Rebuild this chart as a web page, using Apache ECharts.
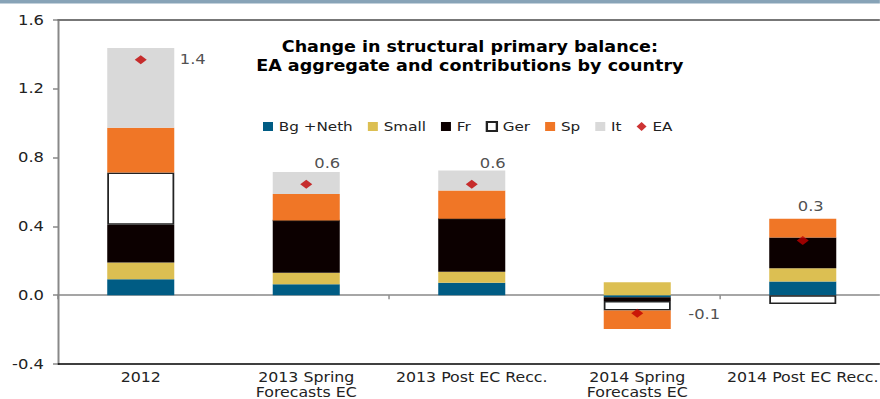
<!DOCTYPE html>
<html>
<head>
<meta charset="utf-8">
<script src="https://cdn.jsdelivr.net/npm/echarts@6/dist/echarts.min.js"></script>
<style>
  html, body { margin: 0; padding: 0; background: #fff; overflow: hidden; }
  #wrap { width: 880px; height: 399px; overflow: hidden; }
  #chart { height: 399px; transform-origin: 0 0; }
</style>
</head>
<body>
<div id="wrap"><div id="chart"></div></div>
<script>
// Change in structural primary balance, by forecast vintage
const categories = [
  '2012',
  '2013 Spring\nForecasts EC',
  '2013 Post EC Recc.',
  '2014 Spring\nForecasts EC',
  '2014 Post EC Recc.'
];
const bgNeth = [0.093, 0.064, 0.073, -0.012, 0.079];
const small  = [0.097, 0.066, 0.064, 0.076, 0.078];
const fr     = [0.219, 0.304, 0.307, -0.021, 0.178];
const ger    = [0.304, 0, 0, -0.056, -0.051];
const sp     = [0.260, 0.155, 0.164, -0.107, 0.109];
const it     = [0.464, 0.127, 0.117, 0, 0];
const ea     = [1.369, 0.645, 0.645, -0.105, 0.318];
const yTicks = { min: -0.4, max: 1.6, interval: 0.4 };

const FONT = 'DejaVu Sans';
const TXT = '#222';

// The chart is laid out narrower and widened with CSS, giving the broad lettering.
const SX = 1.17;
const W = 880;
const sx = v => v / SX;           // page pixels -> chart pixels (horizontal)
const el = document.getElementById('chart');
el.style.width = sx(W) + 'px';
el.style.transform = 'scaleX(' + SX + ')';

// where each EA value label sits relative to its diamond (page pixels)
const eaLabelOffsets = [[52, 0], [21, -21], [21, -21], [67, 1], [8, -34]];

function barSeries(name, values, style) {
  return {
    name, type: 'bar', stack: 'total', data: values,
    barWidth: '40.5%', itemStyle: style
  };
}

const chart = echarts.init(el, null, { renderer: 'svg' });
chart.setOption({
  animation: false,
  textStyle: { fontFamily: FONT },
  title: {
    text: 'Change in structural primary balance:\nEA aggregate and contributions by country',
    left: sx(464), top: 32, textAlign: 'center',
    textStyle: { fontFamily: FONT, fontSize: 15, fontWeight: 'bold', color: '#000', lineHeight: 19 }
  },
  graphic: [{
    type: 'rect', left: 0, top: 0, shape: { width: sx(W), height: 3.5 },
    style: { fill: '#87a3b7' }
  }],
  legend: {
    left: sx(263), top: 120, padding: 0,
    itemWidth: sx(10), itemHeight: 9, itemGap: sx(15),
    textStyle: { fontFamily: FONT, fontSize: 13, color: TXT },
    data: [
      { name: 'Bg +Neth', icon: 'rect' },
      { name: 'Small', icon: 'rect' },
      { name: 'Fr', icon: 'rect' },
      { name: 'Ger', icon: 'rect' },
      { name: 'Sp', icon: 'rect' },
      { name: 'It', icon: 'rect' },
      { name: 'EA', icon: 'diamond' }
    ]
  },
  // the category axis runs a little past the right edge of the page
  grid: {
    left: sx(58), width: sx(827.5), top: 20, bottom: 35,
    containLabel: false, outerBoundsMode: 'none'
  },
  xAxis: [
    {
      type: 'category', data: categories, position: 'bottom',
      axisLine: { onZero: false, lineStyle: { color: '#000', width: 1.5 } },
      axisTick: { show: false },
      axisLabel: { fontFamily: FONT, fontSize: 13.5, color: TXT, margin: 6, lineHeight: 14.5, interval: 0 }
    },
    {
      // category line through zero with boundary ticks
      type: 'category', data: categories, position: 'bottom',
      axisLine: { onZero: true, lineStyle: { color: '#888', width: 1.5 } },
      axisTick: { show: true, length: 4, lineStyle: { color: '#888', width: 1.2 } },
      axisLabel: { show: false }
    },
    {
      type: 'category', data: categories, position: 'top',
      axisLine: { onZero: false, lineStyle: { color: '#777', width: 2 } },
      axisTick: { show: false }, axisLabel: { show: false }
    }
  ],
  yAxis: {
    type: 'value', min: yTicks.min, max: yTicks.max, interval: yTicks.interval,
    axisLine: { show: true, lineStyle: { color: '#888', width: 1.7 } },
    axisTick: { show: true, length: sx(5), lineStyle: { color: '#888', width: 1.5 } },
    splitLine: { show: false },
    axisLabel: { fontFamily: FONT, fontSize: 14, color: TXT, margin: sx(14),
                 formatter: v => v.toFixed(1) }
  },
  series: [
    barSeries('Bg +Neth', bgNeth, { color: '#005c84' }),
    barSeries('Small', small, { color: '#dcbf52' }),
    barSeries('Fr', fr, { color: '#0c0000' }),
    barSeries('Ger', ger, { color: '#ffffff', borderColor: '#222', borderWidth: 1.5 }),
    barSeries('Sp', sp, { color: '#f07626' }),
    barSeries('It', it, { color: '#d9d9d9' }),
    {
      name: 'EA', type: 'scatter', symbol: 'diamond', symbolSize: [sx(12), 9],
      itemStyle: { color: '#c00000' }, z: 5,
      data: ea.map((v, i) => ({
        value: v,
        label: { offset: [sx(eaLabelOffsets[i][0]), eaLabelOffsets[i][1]] }
      })),
      label: {
        show: true, position: 'inside', fontFamily: FONT, fontSize: 14, color: TXT,
        formatter: p => p.value.toFixed(1)
      }
    }
  ]
});
</script>
</body>
</html>
